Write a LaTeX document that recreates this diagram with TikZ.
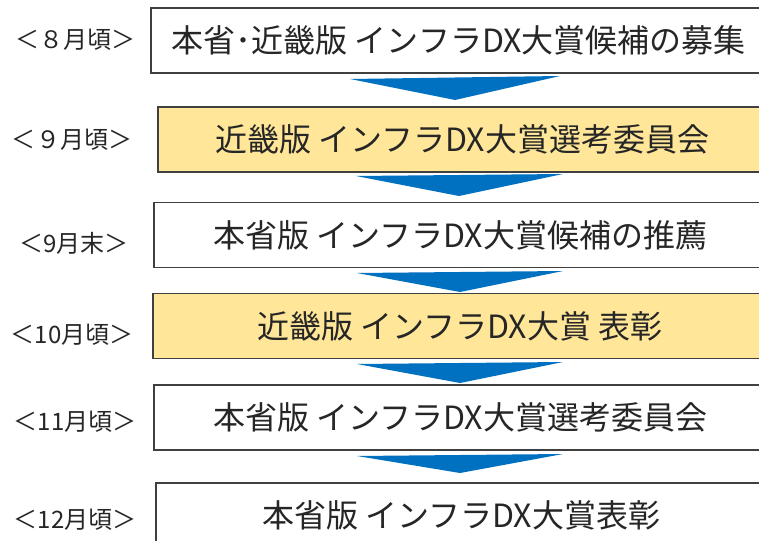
\documentclass[tikz,border=0pt]{standalone}
\usepackage{fontspec}
\setmainfont{Noto Sans CJK JP}
\definecolor{boxline}{HTML}{404040}
\definecolor{boxyellow}{HTML}{FFE699}
\definecolor{arrowblue}{HTML}{0070C0}
\definecolor{txt}{HTML}{262626}
\tikzset{
  stepbox/.style={draw=boxline, line width=1.6pt, minimum height=65pt, inner sep=0pt,
    font=\fontsize{32}{32}\selectfont, text=txt, anchor=west},
  whitebox/.style={stepbox, fill=white},
  yellowbox/.style={stepbox, fill=boxyellow},
  datelabel/.style={font=\fontsize{24}{24}\selectfont, text=txt, inner sep=0pt},
  downarrow/.style={fill=arrowblue, draw=none}
}
\begin{document}
\begin{tikzpicture}[x=1pt,y=-1pt]
\useasboundingbox (0,0) rectangle (759,540);
\clip (0,0) rectangle (759,540);
\fill[white] (0,0) rectangle (759,540);
% boxes
\node[whitebox,  minimum width=616pt] (b1) at (150,40.5) {本省･近畿版 インフラDX大賞候補の募集};
\node[yellowbox, minimum width=609pt] (b2) at (157,139.5) {近畿版 インフラDX大賞選考委員会};
\node[whitebox,  minimum width=613pt] (b3) at (153,235) {本省版 インフラDX大賞候補の推薦};
\node[yellowbox, minimum width=614pt] (b4) at (152,326) {近畿版 インフラDX大賞 表彰};
\node[whitebox,  minimum width=613pt] (b5) at (153,417.5) {本省版 インフラDX大賞選考委員会};
\node[whitebox,  minimum width=611pt] (b6) at (155,515.5) {本省版 インフラDX大賞表彰};
% date labels
\node[datelabel] (l1) at (75,40) {＜８月頃＞};
\node[datelabel] (l2) at (72,140) {＜９月頃＞};
\node[datelabel] (l3) at (74,243) {＜9月末＞};
\node[datelabel] (l4) at (72,335) {＜10月頃＞};
\node[datelabel] (l5) at (75,422) {＜11月頃＞};
\node[datelabel] (l6) at (75,520) {＜12月頃＞};
% arrows
\fill[downarrow] (350,79) -- (560,76) -- (455,100) -- cycle;
\fill[downarrow] (356,176) -- (563,174) -- (459,196) -- cycle;
\fill[downarrow] (357,273) -- (563,271) -- (460,292) -- cycle;
\fill[downarrow] (357,364) -- (563,362) -- (460,383) -- cycle;
\fill[downarrow] (357,456) -- (563,454) -- (460,473) -- cycle;
\end{tikzpicture}
\end{document}
